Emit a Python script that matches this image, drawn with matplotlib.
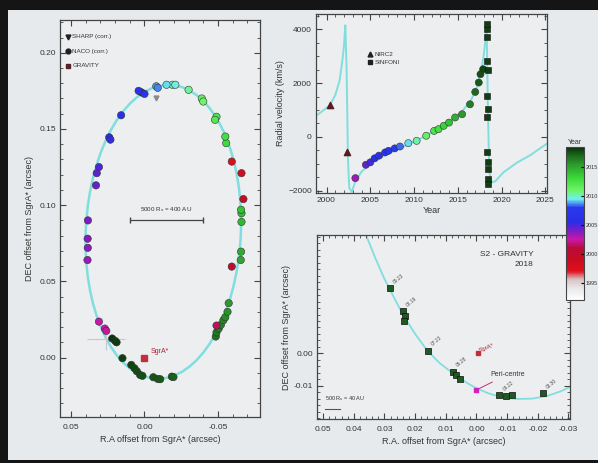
import numpy as np
import matplotlib
matplotlib.use("Agg")
import matplotlib.pyplot as plt
from matplotlib.colors import LinearSegmentedColormap, Normalize
from matplotlib.patches import Ellipse, Rectangle
import matplotlib.cm as cm
from matplotlib.ticker import MultipleLocator

# ---------------- data ----------------
# left panel: astrometry, RA / DEC offsets (arcsec) and epoch
orbit_ra = [0.002, 0.004, 0.0, 0.0159, 0.024, 0.0232, 0.031, 0.0325, 0.033, 0.0385, 0.0387, 0.0386, 0.0388,
            0.031, 0.027, 0.026, 0.022, 0.020, 0.019, 0.015, 0.009, 0.0068, 0.0052, 0.003, 0.0014,
            -0.006, -0.009, -0.0107, -0.0186, -0.0197,
            -0.0485, -0.049, -0.0505, -0.052, -0.0537, -0.055, -0.0565, -0.0573,
            -0.049, -0.0594, -0.0655, -0.0657, -0.066, -0.066, -0.0657, -0.0673, -0.066, -0.0594,
            -0.0556, -0.055, -0.049, -0.048, -0.039, -0.040, -0.030, -0.019, -0.021, -0.015, -0.008, -0.009]
orbit_dec = [0.174, 0.175, 0.173, 0.159, 0.1445, 0.143, 0.125, 0.121, 0.113, 0.090, 0.078, 0.072, 0.064,
             0.0236, 0.019, 0.0175, 0.0125, 0.011, 0.010, -0.0004, -0.0048, -0.007, -0.009, -0.0114, -0.012,
             -0.0129, -0.014, -0.0142, -0.0125, -0.0128,
             0.0138, 0.0165, 0.019, 0.0215, 0.0245, 0.0265, 0.030, 0.0357,
             0.021, 0.0597, 0.064, 0.0695, 0.0947, 0.089, 0.097, 0.104, 0.121, 0.1286,
             0.1407, 0.145, 0.158, 0.156, 0.170, 0.168, 0.1757, 0.179, 0.179, 0.179, 0.178, 0.177]
orbit_year = [2006.5, 2006.8, 2007.0, 2006.0, 2005.6, 2005.4, 2004.8, 2004.6, 2004.4, 2004.0, 2003.8, 2003.6, 2003.4,
              2002.6, 2002.5, 2002.4, 2018.3, 2018.2, 2018.1, 2018.0, 2017.9, 2017.8, 2017.75, 2017.7, 2017.6,
              2017.5, 2017.45, 2017.4, 2017.3, 2017.2,
              2016.8, 2016.6, 2016.5, 2016.3, 2016.2, 2016.0, 2015.8, 2015.5,
              2001.5, 2000.0, 2015.0, 2014.8, 2014.2, 2014.4, 2014.0, 1999.0, 1998.5, 1997.5,
              2013.0, 2012.8, 2012.2, 2012.0, 2011.3, 2011.0, 2010.5, 2009.8, 2009.6, 2009.3, 2008.8, 2008.6]

# orbit model (ellipse)
ell_center = (-0.0128, 0.0825)
ell_width = 0.1055
ell_height = 0.193
ell_angle = 3.0

# right top panel: radial velocity
nirc2_year = [2000.4, 2002.3]
nirc2_rv = [1177, -558]
rv_year = [2003.3, 2004.5, 2005.0, 2005.5, 2006.0, 2006.7, 2007.1, 2007.8, 2008.4,
           2009.35, 2010.3, 2011.4, 2012.3, 2012.8, 2013.4, 2014.0, 2014.7, 2015.5, 2016.4,
           2017.0, 2017.4, 2017.6, 2017.9]
rv_val = [-1537, -1040, -950, -800, -700, -580, -520, -430, -360,
          -235, -150, 40, 220, 285, 410, 530, 720, 840, 1210,
          1670, 2020, 2330, 2515]
sinfoni_year = [2018.3, 2018.32, 2018.33, 2018.35, 2018.4, 2018.38, 2018.4, 2018.38, 2018.37, 2018.4,
                2018.4, 2018.4, 2018.42]
sinfoni_rv = [4000, 4200, 3700, 2825, 2500, 1520, 1030, 720, -580, -950, -1200, -1570, -1760]
rv_model_year = [1998.8, 1999.5, 2000.4, 2001.0, 2001.5, 2001.8, 2002.0, 2002.15, 2002.3, 2002.45, 2002.6,
                 2002.9, 2003.3, 2004.0, 2005.0, 2006.5, 2008.0, 2009.5, 2011.0, 2012.5, 2014.0, 2015.5,
                 2016.5, 2017.2, 2017.7, 2018.0, 2018.2, 2018.3, 2018.45, 2018.6, 2018.9, 2019.3,
                 2020.2, 2021.8, 2023.3, 2025.2]
rv_model_val = [780, 950, 1180, 1550, 2100, 2800, 3400, 4150, 2500, -800, -1900,
                -2050, -1650, -1300, -1000, -720, -480, -260, -20, 250, 550, 950,
                1350, 1850, 2500, 3100, 3700, 4200, 1000, -1300, -1700, -1650,
                -1326, -954, -680, -250]

# bottom right panel: GRAVITY 2018 zoom
grav_ra = [0.0282, 0.0240, 0.0232, 0.0236, 0.0159, 0.0078, 0.0068, 0.0055, -0.0075, -0.0095, -0.0115, -0.0216]
grav_dec = [0.0201, 0.0130, 0.0115, 0.0100, 0.0007, -0.0058, -0.0068, -0.0078, -0.0130, -0.0133, -0.0128, -0.0124]
grav_date = ["09.23", "08.19", "", "", "07.23", "06.28", "", "", "04.22", "", "", "03.30"]
peri_ra, peri_dec = 0.0, -0.0113
zoom_orbit_ra = [0.0360, 0.0330, 0.0300, 0.0270, 0.0240, 0.0200, 0.0160, 0.0120, 0.0074, 0.0030, 0.0,
                 -0.0040, -0.0080, -0.0130, -0.0182, -0.0230, -0.0273, -0.0310, -0.0340]
zoom_orbit_dec = [0.0366, 0.0295, 0.0230, 0.0175, 0.0120, 0.0060, 0.0008, -0.0030, -0.0064, -0.0092, -0.0108,
                  -0.0124, -0.0135, -0.0141, -0.0140, -0.0132, -0.0118, -0.0102, -0.0085]

# year colour scale
cbar_years = [1992, 1994, 1995.5, 1997, 1999, 2001, 2002.5, 2004, 2005.5, 2008, 2009.5, 2011, 2013, 2015.5, 2017, 2018.5]
cbar_colors = ["#ffffff", "#e8e8e8", "#d6c2c6", "#e0101c", "#c80c20", "#b80c3c", "#c818a8", "#7a1cc8",
               "#2a2ee6", "#2a38f0", "#6ef0ee", "#6ef46a", "#3cdc3c", "#2c9c2c", "#1c6c1c", "#0a2e0a"]

# ---------------- style ----------------
plt.rcParams['font.family'] = ['Liberation Sans', 'DejaVu Sans']
plt.rcParams['font.size'] = 6
txt = '#333333'
orbit_col = '#82dede'
bg = '#e7eaec'

ymin, ymax = cbar_years[0], cbar_years[-1]
pos = [(y - ymin) / (ymax - ymin) for y in cbar_years]
cmap = LinearSegmentedColormap.from_list('years', list(zip(pos, cbar_colors)))
norm = Normalize(ymin, ymax)

fig = plt.figure(figsize=(5.98, 4.63), dpi=100)
fig.patch.set_facecolor('#151515')
fig.add_artist(Rectangle((8 / 598, 3 / 463), 590 / 598, 450 / 463, transform=fig.transFigure,
                         facecolor=bg, edgecolor='none', zorder=-10))


def style_axes(ax):
    ax.set_facecolor('#eceef0')
    for s in ax.spines.values():
        s.set_color('#444444')
        s.set_linewidth(0.9)
    ax.tick_params(which='both', direction='in', top=True, right=True, colors='#444444',
                   labelcolor=txt, labelsize=6, pad=3)
    ax.tick_params(which='major', length=4)
    ax.tick_params(which='minor', length=2)
    ax.tick_params(axis='x', which='both', pad=5)


# ---- left panel ----
ax1 = fig.add_axes([60 / 598, 1 - 417 / 463, 200 / 598, 397 / 463])
style_axes(ax1)
ax1.add_patch(Ellipse(ell_center, ell_width, ell_height, angle=ell_angle, fill=False,
                      edgecolor=orbit_col, linewidth=1.8, zorder=1))
ax1.scatter(orbit_ra, orbit_dec, c=orbit_year, cmap=cmap, norm=norm, s=28,
            edgecolors='#333333', linewidths=0.4, zorder=3)
ax1.plot([-0.008], [0.170], marker='v', color='#8a8a8a', markersize=3.5, zorder=3)
ax1.errorbar([0.026], [0.012], xerr=[0.013], yerr=[0.007], color='#c8c8d0', linewidth=0.8, zorder=2)
ax1.plot([0], [0], marker='s', color='#c0303a', markersize=4, zorder=4)
ax1.text(-0.004, 0.003, 'SgrA*', color='#b02030', fontsize=5)
ax1.errorbar([-0.0148], [0.0903], xerr=[0.0247], color='#444444', linewidth=0.9, capsize=2)
ax1.text(-0.0148, 0.094, r'5000 R$_s$ = 400 AU', color=txt, fontsize=4.5, ha='center', va='bottom')
ax1.set_xlim(0.0575, -0.0786)
ax1.set_ylim(-0.039, 0.2215)
ax1.xaxis.set_minor_locator(MultipleLocator(0.01))
ax1.yaxis.set_minor_locator(MultipleLocator(0.01))
ax1.set_xticks([0.05, 0.0, -0.05])
ax1.set_xticklabels(['0.05', '0.00', '-0.05'])
ax1.set_yticks([0.0, 0.05, 0.10, 0.15, 0.20])
ax1.set_yticklabels(['0.00', '0.05', '0.10', '0.15', '0.20'])
ax1.set_xlabel('R.A offset from SgrA* (arcsec)', color=txt, fontsize=6.5, labelpad=3)
ax1.set_ylabel('DEC offset from SgrA* (arcsec)', color=txt, fontsize=6.5, labelpad=4)
leg_items = [('v', '#202020', 'SHARP (corr.)'), ('o', '#202020', 'NACO (corr.)'), ('s', '#5a2028', 'GRAVITY')]
for i, (mk, col, lab) in enumerate(leg_items):
    ax1.plot([0.052], [0.2105 - i * 0.0095], marker=mk, color=col, markersize=3.5, linestyle='none')
    ax1.text(0.049, 0.2105 - i * 0.0095, lab, color=txt, fontsize=4.5, va='center')

# ---- top right: radial velocity ----
ax2 = fig.add_axes([316 / 598, 1 - 193 / 463, 231 / 598, 179 / 463])
style_axes(ax2)
ax2.plot(rv_model_year, rv_model_val, color=orbit_col, linewidth=1.4, zorder=1)
ax2.scatter(rv_year, rv_val, c=rv_year, cmap=cmap, norm=norm, s=26,
            edgecolors='#333333', linewidths=0.4, zorder=3)
ax2.scatter(sinfoni_year, sinfoni_rv, c='#123c12', marker='s', s=16, edgecolors='#111111',
            linewidths=0.4, zorder=3)
ax2.scatter(nirc2_year, nirc2_rv, c='#5a1a24', marker='^', s=20, zorder=3)
ax2.plot([2005.0], [3080], marker='^', color='#202020', markersize=3.5, linestyle='none')
ax2.plot([2005.0], [2780], marker='s', color='#202020', markersize=3.5, linestyle='none')
ax2.text(2005.5, 3080, 'NIRC2', color=txt, fontsize=4.5, va='center')
ax2.text(2005.5, 2780, 'SINFONI', color=txt, fontsize=4.5, va='center')
ax2.set_xlim(1998.8, 2025.2)
ax2.set_ylim(-2090, 4570)
ax2.set_xticks([2000, 2005, 2010, 2015, 2020, 2025])
ax2.set_yticks([-2000, 0, 2000, 4000])
ax2.xaxis.set_minor_locator(MultipleLocator(1))
ax2.yaxis.set_minor_locator(MultipleLocator(500))
ax2.tick_params(axis='x', which='both', pad=3)
ax2.set_xlabel('Year', color=txt, fontsize=6.5, labelpad=1)
ax2.set_ylabel('Radial velocity (km/s)', color=txt, fontsize=6.5, labelpad=2)

# ---- bottom right: GRAVITY 2018 ----
ax3 = fig.add_axes([317 / 598, 1 - 419 / 463, 253 / 598, 184 / 463])
style_axes(ax3)
ax3.plot(zoom_orbit_ra, zoom_orbit_dec, color=orbit_col, linewidth=1.3, zorder=1)
ax3.scatter(grav_ra, grav_dec, c='#1f5a22', marker='s', s=20, edgecolors='#101010',
            linewidths=0.5, zorder=3)
for ra, dec, lab in zip(grav_ra, grav_dec, grav_date):
    if lab:
        ax3.text(ra - 0.0008, dec + 0.0012, lab, color='#505050', fontsize=3.5, rotation=40,
                 ha='left', va='bottom')
ax3.plot([peri_ra], [peri_dec], marker='s', color='#d020c0', markersize=3.5, zorder=4)
ax3.annotate('Peri-centre', xy=(peri_ra, peri_dec), xytext=(-0.0045, -0.0070), color=txt, fontsize=5,
             arrowprops=dict(arrowstyle='-', color='#c03070', linewidth=0.7))
ax3.plot([-0.0005], [0.0001], marker='s', color='#c0303a', markersize=2.5, zorder=4)
ax3.text(-0.0005, 0.0004, 'SgrA*', color='#b02030', fontsize=4.5, rotation=20)
ax3.text(0.0495, -0.0155, r'500 R$_s$ = 40 AU', color=txt, fontsize=4, va='bottom')
ax3.plot([0.0495, 0.0445], [-0.0172, -0.0172], color='#555555', linewidth=0.8)
ax3.text(-0.0185, 0.0305, 'S2 - GRAVITY', color=txt, fontsize=6, ha='right', va='center')
ax3.text(-0.0185, 0.0275, '2018', color=txt, fontsize=6, ha='right', va='center')
ax3.set_xlim(0.052, -0.0305)
ax3.set_ylim(-0.0203, 0.0366)
ax3.set_xticks([0.05, 0.04, 0.03, 0.02, 0.01, 0.0, -0.01, -0.02, -0.03])
ax3.set_xticklabels(['0.05', '0.04', '0.03', '0.02', '0.01', '0.00', '-0.01', '-0.02', '-0.03'])
ax3.set_yticks([-0.01, 0.0])
ax3.set_yticklabels(['-0.01', '0.00'])
ax3.xaxis.set_minor_locator(MultipleLocator(0.002))
ax3.yaxis.set_minor_locator(MultipleLocator(0.002))
ax3.set_xlabel('R.A. offset from SgrA* (arcsec)', color=txt, fontsize=6.5, labelpad=3)
ax3.set_ylabel('DEC offset from SgrA* (arcsec)', color=txt, fontsize=6.5, labelpad=2)

# ---- colour bar ----
cax = fig.add_axes([566 / 598, 1 - 300 / 463, 18 / 598, 153 / 463])
cb = fig.colorbar(cm.ScalarMappable(norm=norm, cmap=cmap), cax=cax)
cb.outline.set_edgecolor('#444444')
cb.outline.set_linewidth(0.8)
cb.set_ticks([1995, 2000, 2005, 2010, 2015])
cax.tick_params(labelsize=4, labelcolor=txt, length=2, direction='in', pad=1)
cax.set_title('Year', fontsize=5, color=txt, pad=2)

fig.savefig('out.png', dpi=100, facecolor=fig.get_facecolor())
